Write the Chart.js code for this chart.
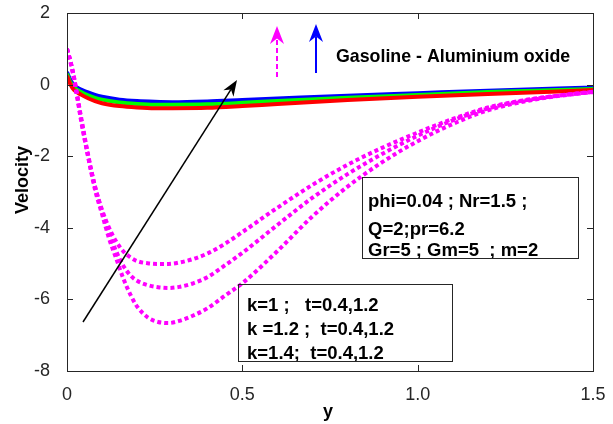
<!DOCTYPE html>
<html>
<head>
<meta charset="utf-8">
<script src="https://cdn.jsdelivr.net/npm/chart.js@4"></script>
<style>
  body { margin: 0; background: #fff; }
  canvas { display: block; }
</style>
</head>
<body>
<canvas id="velChart" width="613" height="424"></canvas>
<script>
// magenta dotted curves (k = 1, 1.2, 1.4)
const xMag = [0, 0.01, 0.02, 0.03, 0.04, 0.06, 0.08, 0.1, 0.12, 0.14, 0.16, 0.18, 0.2, 0.23, 0.26, 0.29,
              0.32, 0.36, 0.4, 0.45, 0.5, 0.6, 0.7, 0.8, 0.9, 1.0, 1.1, 1.2, 1.3, 1.4, 1.5];
const velK1  = [1.0, 0.65, 0.2, -0.35, -0.9, -1.95, -2.85, -3.5, -4.0, -4.38, -4.65, -4.82, -4.93, -4.99, -5.01, -5.01,
                -4.97, -4.87, -4.72, -4.45, -4.12, -3.44, -2.8, -2.24, -1.76, -1.34, -0.96, -0.64, -0.44, -0.31, -0.2];
const velK12 = [1.0, 0.65, 0.2, -0.38, -0.95, -2.0, -2.85, -3.55, -4.15, -4.65, -5.05, -5.32, -5.48, -5.6, -5.66, -5.68,
                -5.65, -5.55, -5.38, -5.05, -4.7, -3.92, -3.16, -2.5, -1.93, -1.43, -1.0, -0.67, -0.45, -0.31, -0.2];
const velK14 = [1.0, 0.62, 0.15, -0.4, -1.0, -2.0, -2.94, -3.62, -4.3, -4.85, -5.4, -5.85, -6.2, -6.5, -6.63, -6.66,
                -6.6, -6.45, -6.25, -5.9, -5.55, -4.65, -3.68, -2.85, -2.16, -1.58, -1.1, -0.72, -0.48, -0.32, -0.21];

// solid curves
const xSol = [0, 0.01, 0.02, 0.04, 0.06, 0.08, 0.1, 0.15, 0.2, 0.25, 0.3, 0.4, 0.5, 0.6, 0.8, 1.0, 1.2, 1.4, 1.5];
const redVel   = [0.25, 0.0, -0.15, -0.28, -0.38, -0.46, -0.52, -0.6, -0.64, -0.66, -0.66, -0.65, -0.6, -0.54, -0.43, -0.34, -0.26, -0.19, -0.15];
const greenVel = [0.3, 0.06, -0.08, -0.21, -0.3, -0.37, -0.42, -0.5, -0.54, -0.56, -0.56, -0.55, -0.51, -0.46, -0.37, -0.29, -0.21, -0.15, -0.12];
const blueVel  = [0.35, 0.12, -0.02, -0.14, -0.22, -0.29, -0.34, -0.42, -0.46, -0.48, -0.49, -0.47, -0.43, -0.39, -0.31, -0.24, -0.17, -0.11, -0.08];

const xTickVals = [0, 0.5, 1, 1.5];
const yTickVals = [-8, -6, -4, -2, 0, 2];

const paramLines = ["phi=0.04 ; Nr=1.5 ;", "Q=2;pr=6.2", "Gr=5 ; Gm=5  ; m=2"];
const kLines = ["k=1 ;   t=0.4,1.2", "k =1.2 ;  t=0.4,1.2", "k=1.4;  t=0.4,1.2"];
const fluidLabel = "Gasoline - Aluminium oxide";

function pts(xs, ys) {
    return xs.map((x, i) => ({ x: x, y: ys[i] }));
}

function drawArrow(ctx, x1, y1, x2, y2, color, width, dash, headLen, headHalf) {
    let ang = Math.atan2(y2 - y1, x2 - x1);
    let c = Math.cos(ang), s = Math.sin(ang);
    let notch = headLen * 0.3;
    let mx = x2 - c * (headLen - notch), my = y2 - s * (headLen - notch);
    ctx.save();
    ctx.strokeStyle = color;
    ctx.lineWidth = width;
    ctx.setLineDash(dash);
    ctx.beginPath();
    ctx.moveTo(x1, y1);
    ctx.lineTo(mx, my);
    ctx.stroke();
    ctx.setLineDash([]);
    let bx = x2 - c * headLen, by = y2 - s * headLen;
    ctx.beginPath();
    ctx.moveTo(x2, y2);
    ctx.lineTo(bx - s * headHalf, by + c * headHalf);
    ctx.lineTo(mx, my);
    ctx.lineTo(bx + s * headHalf, by - c * headHalf);
    ctx.closePath();
    ctx.fillStyle = color;
    ctx.fill();
    ctx.restore();
}

const decorPlugin = {
    id: "decor",
    afterDraw(chart) {
        let ctx = chart.ctx;
        let a = chart.chartArea;
        let xs = chart.scales.x, ys = chart.scales.y;
        ctx.save();
        // frame
        ctx.strokeStyle = "#262626";
        ctx.lineWidth = 1;
        ctx.strokeRect(Math.round(a.left) + 0.5, Math.round(a.top) + 0.5,
                       Math.round(a.right - a.left), Math.round(a.bottom - a.top));
        // inward ticks
        ctx.beginPath();
        xTickVals.forEach(v => {
            let px = Math.round(xs.getPixelForValue(v)) + 0.5;
            ctx.moveTo(px, a.bottom); ctx.lineTo(px, a.bottom - 6);
            ctx.moveTo(px, a.top); ctx.lineTo(px, a.top + 6);
        });
        yTickVals.forEach(v => {
            let py = Math.round(ys.getPixelForValue(v)) + 0.5;
            ctx.moveTo(a.left, py); ctx.lineTo(a.left + 6, py);
            ctx.moveTo(a.right, py); ctx.lineTo(a.right - 6, py);
        });
        ctx.stroke();

        // axis titles
        ctx.fillStyle = "#000";
        ctx.font = "bold 18px 'Liberation Sans'";
        ctx.textAlign = "center";
        ctx.textBaseline = "alphabetic";
        ctx.fillText("y", 328, 417);
        ctx.save();
        ctx.translate(28, 180);
        ctx.rotate(-Math.PI / 2);
        ctx.fillText("Velocity", 0, 0);
        ctx.restore();

        // arrows
        drawArrow(ctx, 83, 322, 237, 80, "#000", 1.5, [], 16, 6);
        drawArrow(ctx, 277, 77, 277, 26, "#ff00ff", 2, [5, 3], 18, 7);
        drawArrow(ctx, 316, 73, 316, 24, "#0000ff", 2, [], 18, 7);

        // text
        ctx.textAlign = "left";
        ctx.fillStyle = "#000";
        ctx.font = "bold 17.8px 'Liberation Sans'";
        ctx.fillText(fluidLabel, 336, 62);

        ctx.font = "bold 18.5px 'Liberation Sans'";
        let pBase = [207, 235, 256];
        paramLines.forEach((t, i) => ctx.fillText(t, 368, pBase[i]));
        let kBase = [311, 335, 359];
        kLines.forEach((t, i) => ctx.fillText(t, 247, kBase[i]));

        ctx.strokeStyle = "#262626";
        ctx.lineWidth = 1;
        ctx.strokeRect(362.5, 177.5, 216, 81);
        ctx.strokeRect(238.5, 284.5, 214, 77);
        ctx.restore();
    }
};

let ctx = document.getElementById("velChart").getContext("2d");
new Chart(ctx, {
    type: "line",
    data: {
        datasets: [
            { label: "k=1.4", data: pts(xMag, velK14), borderColor: "#ff00ff", borderWidth: 4, borderDash: [4, 3] },
            { label: "k=1.2", data: pts(xMag, velK12), borderColor: "#ff00ff", borderWidth: 4, borderDash: [4, 3] },
            { label: "k=1", data: pts(xMag, velK1), borderColor: "#ff00ff", borderWidth: 4, borderDash: [4, 3] },
            { label: "red", data: pts(xSol, redVel), borderColor: "#ff0000", borderWidth: 4 },
            { label: "green", data: pts(xSol, greenVel), borderColor: "#00ff00", borderWidth: 4 },
            { label: "blue", data: pts(xSol, blueVel), borderColor: "#0000ff", borderWidth: 4 }
        ]
    },
    options: {
        responsive: false,
        animation: false,
        devicePixelRatio: 1,
        layout: { padding: { top: 13, right: 20, left: 0, bottom: 0 } },
        elements: {
            point: { radius: 0 },
            line: { cubicInterpolationMode: "monotone", fill: false, borderCapStyle: "butt" }
        },
        plugins: {
            legend: { display: false },
            tooltip: { enabled: false }
        },
        scales: {
            x: {
                type: "linear",
                min: 0,
                max: 1.5,
                afterBuildTicks: s => { s.ticks = xTickVals.map(v => ({ value: v })); },
                afterFit: s => { s.height = 53; s.paddingLeft = 0; s.paddingRight = 0; },
                grid: { display: false },
                border: { display: false },
                ticks: { color: "#262626", font: { family: "Liberation Sans", size: 18 }, padding: 5, maxRotation: 0 }
            },
            y: {
                min: -8,
                max: 2,
                afterBuildTicks: s => { s.ticks = yTickVals.map(v => ({ value: v })); },
                afterFit: s => { s.width = 67; s.paddingTop = 0; s.paddingBottom = 0; },
                grid: { display: false },
                border: { display: false },
                ticks: { color: "#262626", font: { family: "Liberation Sans", size: 18 }, padding: 9 }
            }
        }
    },
    plugins: [decorPlugin]
});
</script>
</body>
</html>
